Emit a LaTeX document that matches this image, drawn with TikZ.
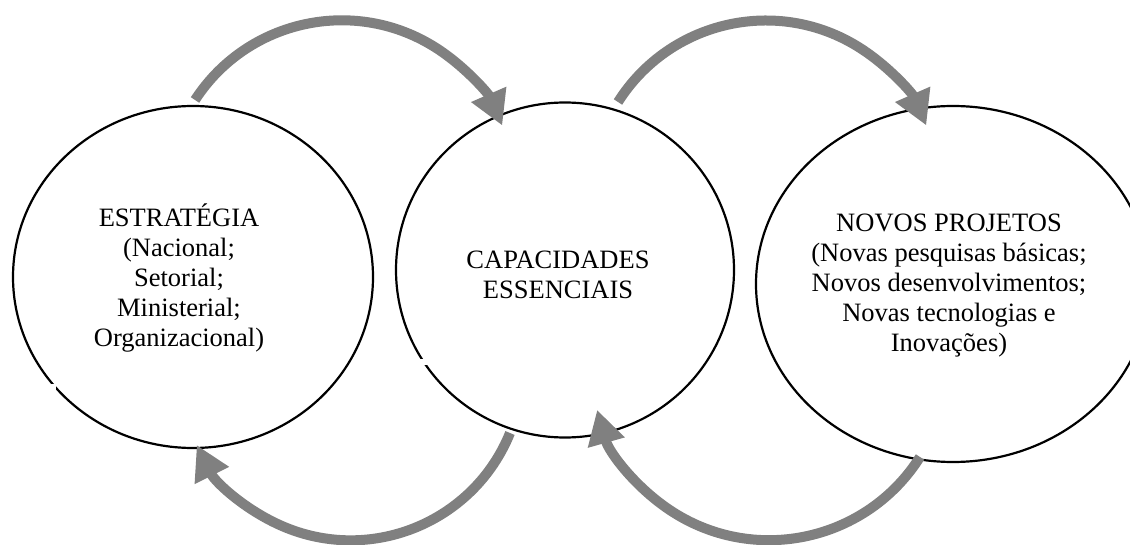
\documentclass[tikz,border=0pt]{standalone}
\usepackage{fontspec}
\setmainfont{Liberation Serif}
\usetikzlibrary{arrows.meta,shapes.geometric}
\definecolor{arrowgray}{HTML}{808080}
\tikzset{
  ring/.style={draw=black, line width=2.2pt, ellipse, inner sep=0pt},
  label/.style={align=center, inner sep=0pt, font=\fontsize{26.5}{30}\selectfont},
  flow/.style={draw=arrowgray, line width=10pt, -{Triangle[length=34pt,width=36pt]}},
}
\begin{document}
\begin{tikzpicture}[x=1pt,y=-1pt]
\fill[white] (0,0) rectangle (1130,545);
\path[use as bounding box] (0,0) rectangle (1130,545);
\clip (0,0) rectangle (1130,545);

% circles
\node[ring, minimum width=360pt, minimum height=342pt] (c1) at (193,277) {};
\node[ring, minimum width=338pt, minimum height=335pt] (c2) at (565,270) {};
\node[ring, minimum width=394pt, minimum height=356pt] (c3) at (953,284) {};

% small breaks in the outlines
\fill[white] (46,384) rectangle (56,390);
\fill[white] (418,359) rectangle (429,365);

% texts
\node[label] (t1) at (179,278) {ESTRATÉGIA\\(Nacional;\\Setorial;\\Ministerial;\\Organizacional)};
\node[label] (t2) at (558,275) {CAPACIDADES\\ESSENCIAIS};
\node[label] (t3) at (949,286) {NOVOS PROJETOS\\(Novas pesquisas básicas;\\Novos desenvolvimentos;\\Novas tecnologias e\\Inovações)};

% arrow start points
\coordinate (s1) at (195,100);
\coordinate (s2) at (618,102);
\coordinate (s3) at (510,433);
\coordinate (s4) at (920,457);

\draw[flow] (s1) arc[start angle=-147, end angle=-23.5, radius=175];
\draw[flow] (s2) arc[start angle=-147.7, end angle=-23.6, radius=175];
\draw[flow] (s3) arc[start angle=22.1, end angle=153.5, radius=172];
\draw[flow] (s4) arc[start angle=32.3, end angle=164.3, radius=178.6];
\end{tikzpicture}
\end{document}
